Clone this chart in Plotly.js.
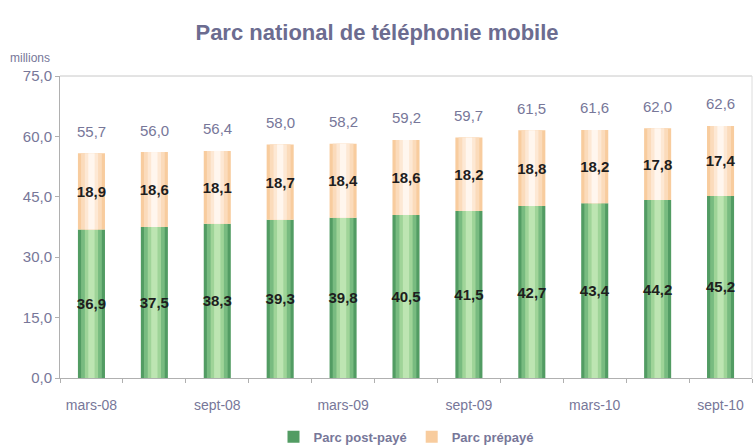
<!DOCTYPE html>
<html>
<head>
<meta charset="utf-8">
<script src="https://cdn.plot.ly/plotly-3.0.1.min.js"></script>
<style>html,body{margin:0;padding:0;background:#fff;}#chart{width:754px;height:448px;}</style>
</head>
<body>
<div id="chart"></div>
<script>
var categories = ["mars-08","juin-08","sept-08","déc-08","mars-09","juin-09","sept-09","déc-09","mars-10","juin-10","sept-10"];
var tickLabels = ["mars-08","","sept-08","","mars-09","","sept-09","","mars-10","","sept-10"];
var postPaye = [36.9,37.5,38.3,39.3,39.8,40.5,41.5,42.7,43.4,44.2,45.2];
var prePaye = [18.9,18.6,18.1,18.7,18.4,18.6,18.2,18.8,18.2,17.8,17.4];
var totals = [55.7,56.0,56.4,58.0,58.2,59.2,59.7,61.5,61.6,62.0,62.6];
var yTicks = [0,15,30,45,60,75];

var greens = ["#529c63","#78bb80","#9fd498","#bde5b2"];
var peaches = ["#f8cc9e","#fbdbbb","#fde8d4","#fff6ee"];
var widths = [0.43,0.33,0.21,0.1];
var FONT = "Liberation Sans, Arial, sans-serif";

var traces = [];
function layers(y, base, colors, name) {
  for (var i = 0; i < widths.length; i++) {
    var t = {
      type: "bar", x: categories, y: y, base: base,
      width: widths[i], marker: {color: colors[i], line: {width: 0}},
      name: name, legendgroup: name, showlegend: i === 0,
      hoverinfo: "skip"
    };
    if (i === widths.length - 1) {
      t.text = y.map(function(v){ return v.toFixed(1).replace(".", ","); });
      t.textposition = "inside";
      t.insidetextanchor = "middle";
      t.textangle = 0;
      t.constraintext = "none";
      t.cliponaxis = false;
      t.textfont = {family: FONT, size: 15, color: "#1e1e1e", weight: "bold"};
    } else {
      t.textposition = "none";
    }
    traces.push(t);
  }
}
layers(postPaye, postPaye.map(function(){return 0;}), greens, "Parc post-payé");
layers(prePaye, postPaye, peaches, "Parc prépayé");

var annotations = categories.map(function(c, i) {
  return {x: c, y: totals[i], xref: "x", yref: "y", yshift: 22, showarrow: false,
    text: totals[i].toFixed(1).replace(".", ","),
    font: {family: FONT, size: 15, color: "#777799"}};
});
annotations.push({xref: "paper", yref: "paper", x: -0.075, y: 1.03, xanchor: "left", yanchor: "bottom",
  showarrow: false, text: "millions", font: {family: FONT, size: 12, color: "#777799"}});

var layout = {
  width: 754, height: 448,
  margin: {l: 60, r: 2, t: 76, b: 70},
  paper_bgcolor: "#ffffff", plot_bgcolor: "#ffffff",
  barmode: "overlay",
  title: {text: "<b>Parc national de téléphonie mobile</b>", x: 0.5, xanchor: "center",
    yref: "container", y: 0.928, yanchor: "middle",
    font: {family: FONT, size: 22, color: "#6c6c90"}},
  separators: ", ",
  xaxis: {
    type: "category", tickmode: "array", tickvals: categories, ticktext: tickLabels,
    tickson: "boundaries", ticks: "outside", ticklen: 4, tickcolor: "#b0b0b0",
    showline: true, linecolor: "#b0b0b0", linewidth: 1, showgrid: false,
    ticklabelstandoff: 14,
    tickfont: {family: FONT, size: 14, color: "#777799"},
    range: [-0.5, 10.5]
  },
  yaxis: {
    range: [0, 75], tickmode: "array", tickvals: yTicks, tickformat: ".1f",
    ticks: "outside", ticklen: 4, tickcolor: "#b0b0b0",
    showline: true, linecolor: "#b0b0b0", linewidth: 1, showgrid: false, zeroline: false,
    tickfont: {family: FONT, size: 15, color: "#777799"}
  },
  shapes: [
    {type: "line", xref: "paper", yref: "paper", x0: 0, x1: 1, y0: 1, y1: 1, line: {color: "#c8c8c8", width: 1}},
    {type: "line", xref: "paper", yref: "paper", x0: 1, x1: 1, y0: 0, y1: 1, line: {color: "#dcdcdc", width: 1}}
  ],
  annotations: annotations,
  legend: {orientation: "h", x: 0.5, xanchor: "center", yref: "container", y: 0.025, yanchor: "middle",
    font: {family: FONT, size: 13, color: "#777799", weight: "bold"},
    traceorder: "normal"},
  showlegend: true
};

Plotly.newPlot("chart", traces, layout, {displayModeBar: false, staticPlot: true});
</script>
</body>
</html>
